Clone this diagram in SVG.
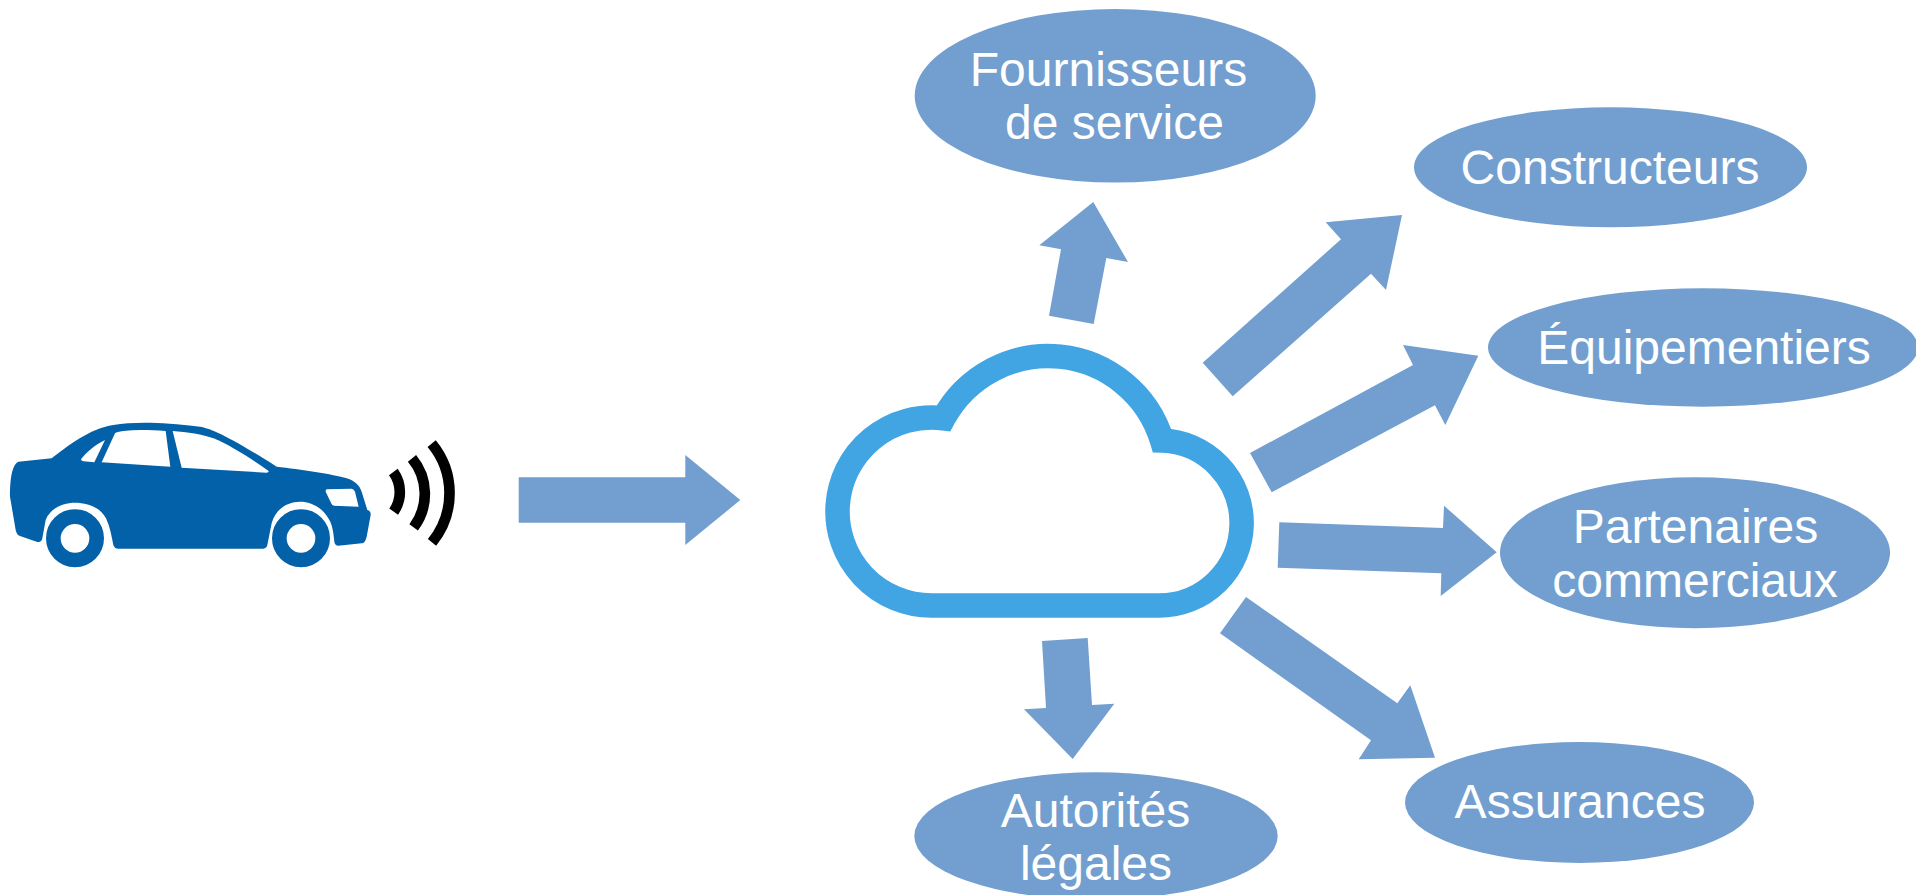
<svg xmlns="http://www.w3.org/2000/svg" width="1916" height="895" viewBox="0 0 1916 895">
<style>
.oval{fill:#729fcf}
.arrow{fill:#729fcf}
.lbl{font-family:"Liberation Sans",Arial,sans-serif;font-size:48px;fill:#fff;text-anchor:middle}
.car{fill:#0361a9}
.glass{fill:#fff}
.wheel{fill:#fff;stroke:#0361a9;stroke-width:44}
.wave{fill:none;stroke:#000;stroke-width:32}
</style>
<rect width="1916" height="895" fill="#fff"/>
<g id="connectors">
<polygon class="arrow" points="518.7,477.3 685.3,477.3 685.3,455 740.3,500 685.3,545 685.3,522.7 518.7,522.7"/>
<polygon class="arrow" points="1049,315.7 1061,249.3 1039.3,245.3 1093.3,202 1128,262 1106.3,258 1093.7,324"/>
<polygon class="arrow" points="1202.7,362.7 1341,239.3 1325.7,222.3 1402,215 1386,290 1371,273.7 1232.7,396.3"/>
<polygon class="arrow" points="1250,453 1413,365 1403,345 1478.3,355.7 1445.3,425 1435,405.3 1271.7,492.3"/>
<polygon class="arrow" points="1279.3,522.3 1443,528 1444,505.7 1496.7,552.3 1440.7,596 1441.3,573.3 1277.7,567.7"/>
<polygon class="arrow" points="1246,597 1397.3,703.3 1410.3,685.3 1435,757.7 1358.7,759.3 1371,740.3 1220,633.3"/>
<polygon class="arrow" points="1042,641 1087.7,638 1092,705 1114.3,703.7 1072.7,759 1024,709.3 1046,708"/>
</g>
<g id="car" transform="translate(0,400) scale(0.33333)">
<path class="car" d="M55,185 L155,175 C200,140 270,85 340,75 C400,65 480,65 600,80 C640,85 720,130 830,200 C900,208 1000,222 1040,235 C1065,243 1078,255 1085,275 L1102,330 Q1113,332 1112,345 L1100,410 Q1095,430 1085,430 L1015,437 Q1005,437 1003,425 C1000,390 995,370 985,355 C965,320 930,305 900,305 C860,305 825,330 815,370 L802,435 Q800,445 790,446 L355,446 Q343,446 340,435 C335,410 330,380 318,355 C300,320 260,308 225,308 C190,308 150,325 137,360 L127,415 Q125,428 112,426 L60,408 Q50,405 47,390 L30,290 C30,240 35,195 55,185 Z"/>
<path class="glass" d="M315,120 C285,135 260,155 243,178 Q243,183 250,184 L283,187 Z"/>
<path class="glass" d="M345,100 Q350,95 370,93 C410,88 450,90 497,93 L511,200 L305,187 Z"/>
<path class="glass" d="M518,93 C560,96 610,103 640,115 C690,135 760,180 805,212 Q808,217 800,218 L545,203 Z"/>
<path class="glass" d="M980,268 L1055,266 Q1062,268 1065,275 L1076,320 L1002,317 Q995,315 993,308 L977,275 Q976,270 980,268 Z"/>
<circle class="wheel" cx="225" cy="415" r="65"/>
<circle class="wheel" cx="903" cy="415" r="65"/>
<path class="wave" d="M1180,216 A102.7,102.7 0 0 1 1181,335"/>
<path class="wave" d="M1236,175 A167,167 0 0 1 1241,382"/>
<path class="wave" d="M1295,131 A233,233 0 0 1 1296,427"/>
</g>
<g id="cloud">
<path d="M931.5,605.5 H1159 A82.5,82.5 0 0 0 1162,440.55 A119,119 0 0 0 943.5,418.27 A94,94 0 1 0 931.5,605.5 Z" fill="#fff" stroke="#41a4e3" stroke-width="24.5" stroke-linejoin="miter" stroke-miterlimit="10"/>
</g>
<g id="fournisseurs">
<ellipse class="oval" cx="1115.2" cy="95.8" rx="200.5" ry="86.8"/>
<text class="lbl" x="1108.5" y="86">Fournisseurs</text>
<text class="lbl" x="1114.5" y="139">de service</text>
</g>
<g id="constructeurs">
<ellipse class="oval" cx="1610.5" cy="167.3" rx="196.5" ry="60"/>
<text class="lbl" x="1610" y="184">Constructeurs</text>
</g>
<g id="equipementiers">
<ellipse class="oval" cx="1703" cy="347.5" rx="215" ry="59.2"/>
<text class="lbl" x="1704" y="364">Équipementiers</text>
</g>
<g id="partenaires">
<ellipse class="oval" cx="1695" cy="552.8" rx="195" ry="75.5"/>
<text class="lbl" x="1695.5" y="543">Partenaires</text>
<text class="lbl" x="1695" y="597">commerciaux</text>
</g>
<g id="assurances">
<ellipse class="oval" cx="1579.5" cy="802.5" rx="174.5" ry="60.5"/>
<text class="lbl" x="1580" y="818">Assurances</text>
</g>
<g id="autorites">
<ellipse class="oval" cx="1096" cy="836" rx="181.7" ry="63.7"/>
<text class="lbl" x="1095.5" y="827">Autorités</text>
<text class="lbl" x="1096" y="880">légales</text>
</g>
</svg>
